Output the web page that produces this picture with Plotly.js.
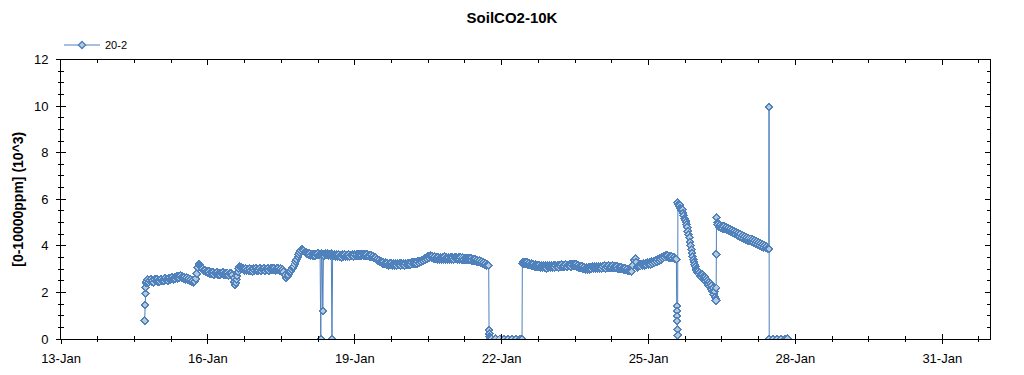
<!DOCTYPE html>
<html>
<head>
<meta charset="utf-8">
<script src="https://cdn.plot.ly/plotly-3.0.1.min.js"></script>
<style>
html,body{margin:0;padding:0;background:#fff;}
#chart{width:1024px;height:375px;}
#chart .scatterlayer .point{shape-rendering:crispEdges;}
</style>
</head>
<body>
<div id="chart"></div>
<script>
const chartTitle = 'SoilCO2-10K';
const seriesName = '20-2';
const yTitle = '[0-10000ppm] (10^3)';
const xRange = ['2021-01-13 00:00', '2021-01-31 23:24'];
const yRange = [0, 12];

const times = [
'2021-01-14 17:00','2021-01-14 17:10','2021-01-14 17:20','2021-01-14 17:30','2021-01-14 17:40',
'2021-01-14 18:00','2021-01-14 18:30','2021-01-14 19:00','2021-01-14 19:30','2021-01-14 20:00','2021-01-14 20:30','2021-01-14 21:00','2021-01-14 21:30','2021-01-14 22:00','2021-01-14 22:30','2021-01-14 23:00','2021-01-14 23:30',
'2021-01-15 00:00','2021-01-15 00:30','2021-01-15 01:00','2021-01-15 01:30','2021-01-15 02:00','2021-01-15 02:30','2021-01-15 03:00','2021-01-15 03:30','2021-01-15 04:00','2021-01-15 04:30','2021-01-15 05:00','2021-01-15 05:30',
'2021-01-15 06:00','2021-01-15 06:30','2021-01-15 07:00','2021-01-15 07:30','2021-01-15 08:00','2021-01-15 08:30','2021-01-15 09:00','2021-01-15 09:30','2021-01-15 10:00','2021-01-15 10:30','2021-01-15 11:00','2021-01-15 11:30',
'2021-01-15 12:00','2021-01-15 12:30','2021-01-15 13:00','2021-01-15 13:30','2021-01-15 14:00','2021-01-15 14:30','2021-01-15 15:00','2021-01-15 15:30','2021-01-15 16:00','2021-01-15 16:30','2021-01-15 17:00',
'2021-01-15 17:30','2021-01-15 18:00','2021-01-15 18:30','2021-01-15 19:00','2021-01-15 19:30','2021-01-15 20:00',
'2021-01-15 20:30','2021-01-15 21:00','2021-01-15 21:30','2021-01-15 22:00','2021-01-15 22:30','2021-01-15 23:00','2021-01-15 23:30',
'2021-01-16 00:00','2021-01-16 00:30','2021-01-16 01:00','2021-01-16 01:30','2021-01-16 02:00','2021-01-16 02:30','2021-01-16 03:00','2021-01-16 03:30','2021-01-16 04:00','2021-01-16 04:30','2021-01-16 05:00','2021-01-16 05:30',
'2021-01-16 06:00','2021-01-16 06:30','2021-01-16 07:00','2021-01-16 07:30','2021-01-16 08:00','2021-01-16 08:30','2021-01-16 09:00','2021-01-16 09:30','2021-01-16 10:00','2021-01-16 10:30','2021-01-16 11:00','2021-01-16 11:30',
'2021-01-16 12:00','2021-01-16 12:40','2021-01-16 13:00','2021-01-16 13:20','2021-01-16 13:40','2021-01-16 14:00','2021-01-16 14:20','2021-01-16 14:40','2021-01-16 15:00','2021-01-16 15:30','2021-01-16 16:00',
'2021-01-16 16:30','2021-01-16 17:00','2021-01-16 17:30','2021-01-16 18:00','2021-01-16 18:30','2021-01-16 19:00','2021-01-16 19:30','2021-01-16 20:00','2021-01-16 20:30','2021-01-16 21:00','2021-01-16 21:30','2021-01-16 22:00','2021-01-16 22:30','2021-01-16 23:00','2021-01-16 23:30',
'2021-01-17 00:00','2021-01-17 00:30','2021-01-17 01:00','2021-01-17 01:30','2021-01-17 02:00','2021-01-17 02:30','2021-01-17 03:00','2021-01-17 03:30','2021-01-17 04:00','2021-01-17 04:30','2021-01-17 05:00','2021-01-17 05:30',
'2021-01-17 06:00','2021-01-17 06:30','2021-01-17 07:00','2021-01-17 07:30','2021-01-17 08:00','2021-01-17 08:30','2021-01-17 09:00','2021-01-17 09:30','2021-01-17 10:00','2021-01-17 10:30','2021-01-17 11:00','2021-01-17 11:30',
'2021-01-17 12:00','2021-01-17 12:30','2021-01-17 13:00','2021-01-17 13:40','2021-01-17 14:20','2021-01-17 15:00',
'2021-01-17 15:30','2021-01-17 16:00','2021-01-17 16:30','2021-01-17 17:00','2021-01-17 17:30','2021-01-17 18:00','2021-01-17 18:30','2021-01-17 19:00','2021-01-17 19:30','2021-01-17 20:00','2021-01-17 20:30','2021-01-17 21:00','2021-01-17 21:30','2021-01-17 22:00','2021-01-17 22:30','2021-01-17 23:00','2021-01-17 23:30',
'2021-01-18 00:00','2021-01-18 00:30','2021-01-18 01:00','2021-01-18 01:30','2021-01-18 02:00','2021-01-18 02:30','2021-01-18 03:00','2021-01-18 03:30','2021-01-18 04:00','2021-01-18 04:30','2021-01-18 05:00','2021-01-18 05:30','2021-01-18 06:00','2021-01-18 06:30','2021-01-18 07:00',
'2021-01-18 07:20','2021-01-18 07:40','2021-01-18 08:00','2021-01-18 08:20','2021-01-18 08:40','2021-01-18 09:00','2021-01-18 09:30','2021-01-18 10:00','2021-01-18 10:30','2021-01-18 11:00','2021-01-18 11:30','2021-01-18 12:00','2021-01-18 12:30','2021-01-18 12:50','2021-01-18 13:10',
'2021-01-18 13:30','2021-01-18 14:00','2021-01-18 14:30','2021-01-18 15:00','2021-01-18 15:30','2021-01-18 16:00','2021-01-18 16:30','2021-01-18 17:00','2021-01-18 17:30','2021-01-18 18:00','2021-01-18 18:30','2021-01-18 19:00','2021-01-18 19:30','2021-01-18 20:00','2021-01-18 20:30','2021-01-18 21:00','2021-01-18 21:30','2021-01-18 22:00','2021-01-18 22:30','2021-01-18 23:00','2021-01-18 23:30',
'2021-01-19 00:00','2021-01-19 00:30','2021-01-19 01:00','2021-01-19 01:30','2021-01-19 02:00','2021-01-19 02:30','2021-01-19 03:00','2021-01-19 03:30','2021-01-19 04:00','2021-01-19 04:30','2021-01-19 05:00','2021-01-19 05:30',
'2021-01-19 06:00','2021-01-19 06:30','2021-01-19 07:00','2021-01-19 07:30','2021-01-19 08:00','2021-01-19 08:30','2021-01-19 09:00','2021-01-19 09:30','2021-01-19 10:00','2021-01-19 10:30','2021-01-19 11:00','2021-01-19 11:30',
'2021-01-19 12:00','2021-01-19 12:30','2021-01-19 13:00','2021-01-19 13:30','2021-01-19 14:00','2021-01-19 14:30','2021-01-19 15:00','2021-01-19 15:30','2021-01-19 16:00','2021-01-19 16:30','2021-01-19 17:00','2021-01-19 17:30',
'2021-01-19 18:00','2021-01-19 18:30','2021-01-19 19:00','2021-01-19 19:30','2021-01-19 20:00','2021-01-19 20:30','2021-01-19 21:00','2021-01-19 21:30','2021-01-19 22:00','2021-01-19 22:30','2021-01-19 23:00','2021-01-19 23:30',
'2021-01-20 00:00','2021-01-20 00:30','2021-01-20 01:00','2021-01-20 01:30','2021-01-20 02:00','2021-01-20 02:30','2021-01-20 03:00','2021-01-20 03:30','2021-01-20 04:00','2021-01-20 04:30','2021-01-20 05:00','2021-01-20 05:30',
'2021-01-20 06:00','2021-01-20 06:30','2021-01-20 07:00','2021-01-20 07:30','2021-01-20 08:00','2021-01-20 08:30','2021-01-20 09:00','2021-01-20 09:30','2021-01-20 10:00','2021-01-20 10:30','2021-01-20 11:00','2021-01-20 11:30',
'2021-01-20 12:00','2021-01-20 12:30','2021-01-20 13:00','2021-01-20 13:30','2021-01-20 14:00','2021-01-20 14:30','2021-01-20 15:00','2021-01-20 15:30','2021-01-20 16:00','2021-01-20 16:30','2021-01-20 17:00','2021-01-20 17:30',
'2021-01-20 18:00','2021-01-20 18:30','2021-01-20 19:00','2021-01-20 19:30','2021-01-20 20:00','2021-01-20 20:30','2021-01-20 21:00','2021-01-20 21:30','2021-01-20 22:00','2021-01-20 22:30','2021-01-20 23:00','2021-01-20 23:30',
'2021-01-21 00:00','2021-01-21 00:30','2021-01-21 01:00','2021-01-21 01:30','2021-01-21 02:00','2021-01-21 02:30','2021-01-21 03:00','2021-01-21 03:30','2021-01-21 04:00','2021-01-21 04:30','2021-01-21 05:00','2021-01-21 05:30',
'2021-01-21 06:00','2021-01-21 06:30','2021-01-21 07:00','2021-01-21 07:30','2021-01-21 08:00','2021-01-21 08:30','2021-01-21 09:00','2021-01-21 09:30','2021-01-21 10:00','2021-01-21 10:30','2021-01-21 11:00','2021-01-21 11:30',
'2021-01-21 12:00','2021-01-21 12:30','2021-01-21 13:00','2021-01-21 13:30','2021-01-21 14:00','2021-01-21 14:30','2021-01-21 15:00','2021-01-21 15:30','2021-01-21 16:00','2021-01-21 16:30','2021-01-21 17:00',
'2021-01-21 17:40','2021-01-21 17:50','2021-01-21 18:00','2021-01-21 18:10','2021-01-21 18:20','2021-01-21 19:00','2021-01-21 21:00','2021-01-21 23:00',
'2021-01-22 01:00','2021-01-22 03:00','2021-01-22 05:00','2021-01-22 07:00','2021-01-22 09:00','2021-01-22 10:00','2021-01-22 10:10',
'2021-01-22 10:30','2021-01-22 11:00','2021-01-22 11:30','2021-01-22 12:00','2021-01-22 12:30','2021-01-22 13:00','2021-01-22 13:30','2021-01-22 14:00','2021-01-22 14:30','2021-01-22 15:00',
'2021-01-22 15:30','2021-01-22 16:00','2021-01-22 16:30','2021-01-22 17:00','2021-01-22 17:30','2021-01-22 18:00','2021-01-22 18:30','2021-01-22 19:00','2021-01-22 19:30','2021-01-22 20:00',
'2021-01-22 20:30','2021-01-22 21:00','2021-01-22 21:30','2021-01-22 22:00','2021-01-22 22:30','2021-01-22 23:00','2021-01-22 23:30',
'2021-01-23 00:00','2021-01-23 00:30','2021-01-23 01:00','2021-01-23 01:30','2021-01-23 02:00','2021-01-23 02:30','2021-01-23 03:00','2021-01-23 03:30','2021-01-23 04:00','2021-01-23 04:30','2021-01-23 05:00','2021-01-23 05:30',
'2021-01-23 06:00','2021-01-23 06:30','2021-01-23 07:00','2021-01-23 07:30','2021-01-23 08:00','2021-01-23 08:30','2021-01-23 09:00','2021-01-23 09:30','2021-01-23 10:00','2021-01-23 10:30','2021-01-23 11:00','2021-01-23 11:30',
'2021-01-23 12:00','2021-01-23 12:30','2021-01-23 13:00','2021-01-23 13:30','2021-01-23 14:00','2021-01-23 14:30','2021-01-23 15:00','2021-01-23 15:30','2021-01-23 16:00','2021-01-23 16:30','2021-01-23 17:00','2021-01-23 17:30',
'2021-01-23 18:00','2021-01-23 18:30','2021-01-23 19:00','2021-01-23 19:30','2021-01-23 20:00','2021-01-23 20:30','2021-01-23 21:00','2021-01-23 21:30','2021-01-23 22:00','2021-01-23 22:30','2021-01-23 23:00','2021-01-23 23:30',
'2021-01-24 00:00','2021-01-24 00:30','2021-01-24 01:00','2021-01-24 01:30','2021-01-24 02:00','2021-01-24 02:30','2021-01-24 03:00','2021-01-24 03:30','2021-01-24 04:00','2021-01-24 04:30','2021-01-24 05:00','2021-01-24 05:30',
'2021-01-24 06:00','2021-01-24 06:30','2021-01-24 07:00','2021-01-24 07:30','2021-01-24 08:00','2021-01-24 08:30','2021-01-24 09:00','2021-01-24 09:30','2021-01-24 10:00','2021-01-24 10:30','2021-01-24 11:00','2021-01-24 11:30',
'2021-01-24 12:00','2021-01-24 12:30','2021-01-24 13:00','2021-01-24 13:30','2021-01-24 14:00','2021-01-24 14:30','2021-01-24 15:00',
'2021-01-24 15:40','2021-01-24 16:20','2021-01-24 17:00','2021-01-24 17:30','2021-01-24 18:00','2021-01-24 18:30',
'2021-01-24 19:00','2021-01-24 19:30','2021-01-24 20:00','2021-01-24 20:30','2021-01-24 21:00','2021-01-24 21:30','2021-01-24 22:00','2021-01-24 22:30','2021-01-24 23:00','2021-01-24 23:30',
'2021-01-25 00:00','2021-01-25 00:30','2021-01-25 01:00','2021-01-25 01:30','2021-01-25 02:00','2021-01-25 02:30','2021-01-25 03:00','2021-01-25 03:30','2021-01-25 04:00','2021-01-25 04:30','2021-01-25 05:00','2021-01-25 05:30',
'2021-01-25 06:00','2021-01-25 06:30','2021-01-25 07:00','2021-01-25 07:30','2021-01-25 08:00','2021-01-25 08:30','2021-01-25 09:00','2021-01-25 09:30','2021-01-25 10:00','2021-01-25 10:30','2021-01-25 11:00','2021-01-25 11:30',
'2021-01-25 12:00','2021-01-25 12:30','2021-01-25 13:00','2021-01-25 13:40',
'2021-01-25 13:50','2021-01-25 13:55','2021-01-25 14:00','2021-01-25 14:05','2021-01-25 14:10','2021-01-25 14:15',
'2021-01-25 14:25','2021-01-25 14:40','2021-01-25 15:00','2021-01-25 15:20','2021-01-25 15:40','2021-01-25 16:00','2021-01-25 16:20','2021-01-25 16:40','2021-01-25 17:00','2021-01-25 17:20',
'2021-01-25 17:40','2021-01-25 18:00','2021-01-25 18:20','2021-01-25 18:40','2021-01-25 19:00','2021-01-25 19:20','2021-01-25 19:40','2021-01-25 20:00','2021-01-25 20:20','2021-01-25 20:40',
'2021-01-25 21:00','2021-01-25 21:20','2021-01-25 21:40','2021-01-25 22:00','2021-01-25 22:20','2021-01-25 22:40','2021-01-25 23:00','2021-01-25 23:20','2021-01-25 23:40',
'2021-01-26 00:00','2021-01-26 00:20','2021-01-26 00:40','2021-01-26 01:00','2021-01-26 01:20','2021-01-26 01:40','2021-01-26 02:00','2021-01-26 02:20','2021-01-26 02:40','2021-01-26 03:00',
'2021-01-26 03:20','2021-01-26 03:40','2021-01-26 04:00','2021-01-26 04:20','2021-01-26 04:40','2021-01-26 05:00','2021-01-26 05:20','2021-01-26 05:40','2021-01-26 06:00','2021-01-26 06:20',
'2021-01-26 06:40','2021-01-26 07:00','2021-01-26 07:20','2021-01-26 07:40','2021-01-26 08:00','2021-01-26 08:20','2021-01-26 08:40','2021-01-26 09:00',
'2021-01-26 09:05','2021-01-26 09:10','2021-01-26 09:15','2021-01-26 09:20','2021-01-26 09:40',
'2021-01-26 10:00','2021-01-26 10:30','2021-01-26 11:00','2021-01-26 11:30','2021-01-26 12:00','2021-01-26 12:30','2021-01-26 13:00','2021-01-26 13:30','2021-01-26 14:00','2021-01-26 14:30',
'2021-01-26 15:00','2021-01-26 15:30','2021-01-26 16:00','2021-01-26 16:30','2021-01-26 17:00','2021-01-26 17:30','2021-01-26 18:00','2021-01-26 18:30','2021-01-26 19:00','2021-01-26 19:30',
'2021-01-26 20:00','2021-01-26 20:30','2021-01-26 21:00','2021-01-26 21:30','2021-01-26 22:00','2021-01-26 22:30','2021-01-26 23:00','2021-01-26 23:30',
'2021-01-27 00:00','2021-01-27 00:30','2021-01-27 01:00','2021-01-27 01:30','2021-01-27 02:00','2021-01-27 02:30','2021-01-27 03:00','2021-01-27 03:30','2021-01-27 04:00','2021-01-27 04:30',
'2021-01-27 05:00','2021-01-27 05:30','2021-01-27 06:00','2021-01-27 06:30','2021-01-27 07:00','2021-01-27 07:30','2021-01-27 08:00','2021-01-27 08:30','2021-01-27 09:00','2021-01-27 09:30',
'2021-01-27 10:00','2021-01-27 10:30','2021-01-27 11:00',
'2021-01-27 11:05','2021-01-27 11:10','2021-01-27 13:00','2021-01-27 15:00','2021-01-27 17:00','2021-01-27 19:00','2021-01-27 20:10'
];

const co2 = [
0.78,1.46,1.95,2.20,2.40,
2.47,2.55,2.44,2.52,2.57,2.45,2.51,2.43,2.56,2.49,2.58,2.46,
2.53,2.47,2.59,2.50,2.55,2.48,2.60,2.52,2.57,2.50,2.62,2.53,
2.58,2.65,2.55,2.63,2.58,2.68,2.60,2.70,2.62,2.71,2.63,2.69,
2.60,2.66,2.57,2.63,2.55,2.60,2.51,2.57,2.48,2.53,2.44,
2.48,2.58,2.80,3.08,3.22,3.18,
3.12,3.06,3.02,2.94,2.97,2.88,2.93,
2.84,2.90,2.81,2.88,2.79,2.86,2.77,2.85,2.79,2.87,2.76,2.84,
2.75,2.83,2.78,2.86,2.74,2.82,2.76,2.84,2.73,2.81,2.77,2.83,
2.74,2.62,2.45,2.32,2.40,2.55,2.70,2.88,3.02,3.12,3.08,
3.06,3.01,3.04,2.95,3.02,2.93,3.00,2.92,3.03,2.94,3.01,2.91,3.02,2.95,3.04,
2.93,3.01,2.94,3.03,2.92,3.00,2.95,3.04,2.93,3.02,2.96,3.05,
2.94,3.02,2.95,3.04,2.96,3.05,2.94,3.03,2.97,3.05,2.95,3.02,
2.93,2.98,2.88,2.75,2.62,2.68,
2.75,2.84,2.92,2.98,3.05,3.12,3.22,3.32,3.42,3.52,3.62,3.72,3.80,3.86,3.84,3.79,3.74,
3.72,3.66,3.70,3.62,3.67,3.59,3.65,3.57,3.64,3.58,3.66,3.60,3.67,3.59,3.64,
0.00,3.66,3.60,1.20,3.63,3.58,3.67,3.60,3.66,3.58,3.65,3.59,3.66,0.00,3.62,
3.56,3.63,3.55,3.62,3.53,3.61,3.54,3.60,3.52,3.61,3.54,3.62,3.53,3.60,3.55,3.63,3.54,3.61,3.56,3.63,3.55,
3.62,3.56,3.64,3.57,3.65,3.58,3.66,3.59,3.65,3.57,3.64,3.56,
3.63,3.55,3.61,3.54,3.60,3.51,3.56,3.47,3.50,3.41,3.44,3.35,
3.38,3.30,3.33,3.25,3.30,3.22,3.28,3.19,3.26,3.17,3.25,3.18,
3.26,3.16,3.24,3.17,3.25,3.15,3.23,3.18,3.26,3.16,3.24,3.18,
3.25,3.16,3.23,3.18,3.27,3.19,3.26,3.20,3.29,3.21,3.30,3.23,
3.31,3.24,3.33,3.27,3.36,3.30,3.40,3.34,3.45,3.39,3.50,3.44,
3.55,3.49,3.59,3.51,3.56,3.47,3.53,3.44,3.51,3.43,3.52,3.42,
3.50,3.41,3.51,3.43,3.52,3.42,3.50,3.41,3.51,3.43,3.52,3.42,
3.51,3.42,3.52,3.43,3.50,3.41,3.51,3.42,3.50,3.40,3.49,3.41,
3.48,3.40,3.49,3.39,3.47,3.38,3.46,3.37,3.45,3.35,3.43,3.33,
3.40,3.31,3.37,3.28,3.33,3.24,3.29,3.20,3.25,3.16,3.20,
3.16,0.38,0.22,0.10,0.04,0.00,0.00,0.00,
0.00,0.00,0.00,0.00,0.00,0.00,3.25,
3.30,3.22,3.31,3.23,3.29,3.19,3.27,3.17,3.24,3.14,
3.22,3.12,3.20,3.10,3.18,3.09,3.17,3.07,3.16,3.06,
3.15,3.07,3.16,3.05,3.14,3.06,3.15,
3.07,3.16,3.08,3.17,3.07,3.15,3.09,3.18,3.08,3.17,3.10,3.19,
3.09,3.18,3.11,3.20,3.10,3.19,3.12,3.21,3.11,3.20,3.13,3.23,
3.14,3.22,3.10,3.17,3.06,3.14,3.04,3.12,3.01,3.09,2.98,3.07,
2.98,3.07,3.00,3.09,3.01,3.10,3.02,3.11,3.03,3.12,3.02,3.12,
3.03,3.12,3.04,3.13,3.05,3.14,3.04,3.13,3.06,3.15,3.05,3.14,
3.06,3.15,3.05,3.14,3.04,3.12,3.02,3.10,3.00,3.08,2.99,3.06,
2.97,3.04,2.95,3.01,2.93,2.97,2.91,
2.90,3.15,3.38,3.46,3.30,3.08,
3.14,3.20,3.13,3.22,3.15,3.24,3.16,3.25,3.18,3.27,
3.20,3.29,3.22,3.31,3.25,3.34,3.28,3.37,3.31,3.41,3.35,3.45,
3.40,3.50,3.45,3.55,3.51,3.60,3.52,3.58,3.49,3.56,3.47,3.54,
3.46,3.52,3.44,3.43,
1.42,1.20,0.98,0.77,0.42,0.17,
5.86,5.78,5.70,5.74,5.62,5.58,5.52,5.56,5.40,5.30,
5.18,5.10,5.02,4.92,4.80,4.62,4.48,4.35,4.18,4.02,
3.85,3.70,3.55,3.42,3.32,3.20,3.12,3.00,2.95,
2.86,2.92,2.78,2.84,2.70,2.80,2.62,2.76,2.58,2.70,
2.52,2.66,2.45,2.58,2.40,2.52,2.32,2.45,2.25,2.38,
2.15,2.30,2.05,2.18,1.92,2.05,1.80,1.72,
1.65,2.20,3.64,5.22,5.00,
4.92,4.82,4.90,4.78,4.86,4.74,4.83,4.71,4.80,4.68,
4.76,4.63,4.72,4.58,4.67,4.54,4.62,4.50,4.59,4.45,
4.55,4.41,4.50,4.36,4.45,4.32,4.41,4.28,
4.37,4.25,4.33,4.21,4.29,4.17,4.25,4.13,4.21,4.10,
4.17,4.05,4.13,4.01,4.09,3.97,4.05,3.93,4.01,3.90,
3.97,3.88,3.86,
9.95,0.00,0.00,0.00,0.00,0.00,0.00
];

const lineColor = '#4f81bd';
const markerFill = '#b7cadb';
const fontFamily = '"Liberation Sans", Arial, sans-serif';

const data = [
  {
    type: 'scatter', mode: 'lines+markers', name: seriesName,
    x: times, y: co2,
    line: {color: lineColor, width: 1},
    marker: {symbol: 'diamond', size: 5.5, color: markerFill, line: {color: lineColor, width: 1.4}}
  },
  {
    type: 'scatter', mode: 'markers', x: [], y: [], xaxis: 'x2', yaxis: 'y2',
    showlegend: false, hoverinfo: 'skip'
  }
];

const DAY = 86400000;
const layout = {
  width: 1024, height: 375,
  margin: {l: 61, r: 34, t: 59, b: 36},
  paper_bgcolor: '#fff', plot_bgcolor: '#fff',
  font: {family: fontFamily, size: 13, color: '#000'},
  title: {
    text: '<b>' + chartTitle + '</b>', font: {family: fontFamily, size: 15, color: '#000'},
    xref: 'container', x: 0.5, xanchor: 'center', yref: 'container', y: 1 - 18/375, yanchor: 'middle'
  },
  showlegend: true,
  legend: {
    xref: 'container', x: 59/1024, xanchor: 'left', yref: 'container', y: 1 - 45/375, yanchor: 'middle',
    orientation: 'h', bgcolor: 'rgba(0,0,0,0)', itemwidth: 36, font: {family: fontFamily, size: 11, color: '#000'}
  },
  xaxis: {
    type: 'date', range: xRange, tick0: '2021-01-13', dtick: 3*DAY, tickformat: '%d-%b',
    ticks: 'outside', ticklen: 4, tickcolor: '#000', showline: true, linecolor: '#000', linewidth: 1, mirror: true,
    showgrid: false, zeroline: false, tickfont: {size: 13, color: '#000'}, ticklabelstandoff: 3,
    minor: {tick0: '2021-01-13', dtick: 18*3600000, ticks: 'outside', ticklen: 2, tickcolor: '#000', showgrid: false}
  },
  xaxis2: {
    type: 'date', range: xRange, overlaying: 'x', anchor: 'y', tick0: '2021-01-13', dtick: 3*DAY,
    ticks: 'inside', ticklen: 5, tickcolor: '#000', showline: true, linecolor: '#000', mirror: 'ticks',
    showticklabels: false, showgrid: false, zeroline: false,
    minor: {tick0: '2021-01-13', dtick: 18*3600000, ticks: 'inside', ticklen: 3, tickcolor: '#000', showgrid: false}
  },
  yaxis: {
    range: yRange, dtick: 2, ticks: 'outside', ticklen: 4, tickcolor: '#000',
    showline: true, linecolor: '#000', linewidth: 1, mirror: true, showgrid: false, zeroline: false,
    tickfont: {size: 13, color: '#000'}, ticklabelstandoff: 5,
    title: {text: '<b>' + yTitle + '</b>', font: {family: fontFamily, size: 14, color: '#000'}},
    minor: {dtick: 0.5, ticks: 'outside', ticklen: 2, tickcolor: '#000', showgrid: false}
  },
  yaxis2: {
    range: yRange, overlaying: 'y', anchor: 'x', side: 'left', dtick: 2, ticks: 'inside', ticklen: 5, tickcolor: '#000',
    showline: true, linecolor: '#000', mirror: 'ticks', showticklabels: false, showgrid: false, zeroline: false,
    minor: {dtick: 0.5, ticks: 'inside', ticklen: 3, tickcolor: '#000', showgrid: false}
  }
};

Plotly.newPlot('chart', data, layout, {displayModeBar: false, staticPlot: true});
</script>
</body>
</html>
